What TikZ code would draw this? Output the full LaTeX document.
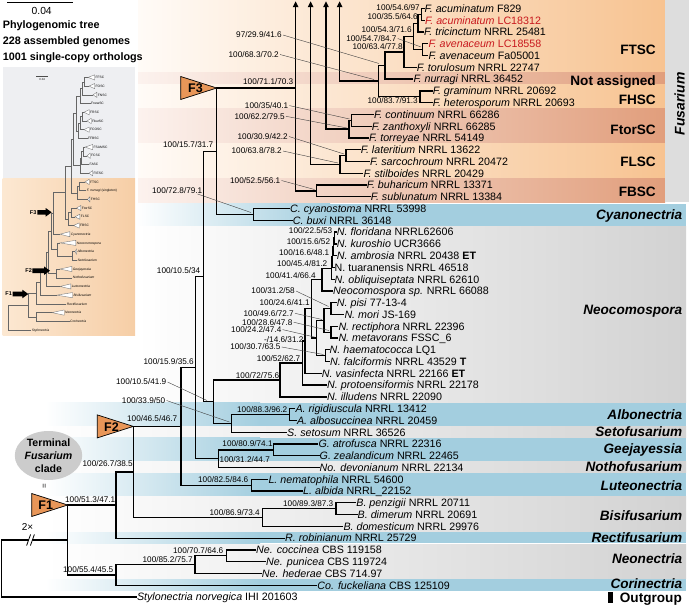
\documentclass[tikz,border=0pt]{standalone}
\usepackage{fontspec}
\setmainfont{Liberation Sans}
\usetikzlibrary{arrows.meta,shapes.geometric}
\definecolor{orL}{RGB}{247,195,145}
\definecolor{orLl}{RGB}{255,251,247}
\definecolor{orD}{RGB}{225,158,124}
\definecolor{orDl}{RGB}{252,242,238}
\definecolor{bblue}{RGB}{163,206,223}
\definecolor{bgray}{RGB}{210,210,210}
\definecolor{fusgray}{RGB}{221,221,221}
\definecolor{trif}{RGB}{232,150,88}
\definecolor{redt}{RGB}{200,25,30}
\definecolor{ellg}{RGB}{204,204,204}
\definecolor{insg}{RGB}{238,239,242}
\definecolor{insoL}{RGB}{252,232,210}
\definecolor{insoR}{RGB}{246,206,166}
\tikzset{
 br/.style={line width=1.3pt},
 tip/.style={anchor=west, inner sep=0pt, font=\fontsize{10.7}{12}\selectfont, text height=7.6pt, text depth=0pt},
 sup/.style={anchor=east, inner sep=0pt, font=\fontsize{8.2}{9}\selectfont, text height=5.9pt, text depth=0pt},
 grp/.style={anchor=east, inner sep=0pt, font=\bfseries\fontsize{13.6}{15}\selectfont, text height=9.8pt, text depth=0pt},
 lead/.style={line width=0.4pt, black!75},
 itri/.style={draw=black!55, fill=white, line width=0.35pt},
 ibr/.style={draw=black!60, line width=0.45pt},
 ilab/.style={anchor=west, inner sep=0pt, font=\fontsize{3.3}{3.5}\selectfont, text height=2.4pt, text depth=0pt},
 ftri/.style={fill=trif, draw=black, line width=0.7pt},
}
\newcommand\brto[2]{\draw[br] (#1) |- (#2.west);}
\newcommand\brn[2]{\draw[br] (#1) |- (#2);}
\newcommand\ibrn[2]{\draw[ibr] (#1) |- (#2);}
\newcommand\itip[5]{\filldraw[itri] (#2,#4) -- (#3-0.8,#4-2.6) -- (#3-0.8,#4+2.6) -- cycle;
 \node[ilab] (#1) at (#3,#4) {#5}; \coordinate (#1a) at (#2,#4);}
\newcommand\iln[4]{\node[ilab] (#1) at (#2,#3) {#4}; \coordinate (#1a) at (#2-0.3,#3);}
\newcommand\blockarrow[4]{\fill (#1,#4-2.3) -- (#3,#4-2.3) -- (#3,#4-4.3) -- (#2,#4) -- (#3,#4+4.3) -- (#3,#4+2.3) -- (#1,#4+2.3) -- cycle;}
\begin{document}
\begin{tikzpicture}[x=1pt,y=-1pt]
\useasboundingbox (0,0) rectangle (689,606);
% ---------------- background bands
\shade[left color=orLl, right color=orL] (138,0) rectangle (665,72.9);
\shade[left color=orDl, right color=orD] (138,72.9) rectangle (665,84.8);
\shade[left color=orLl, right color=orL] (138,84.8) rectangle (665,108.3);
\shade[left color=orDl, right color=orD] (138,108.3) rectangle (665,143.5);
\shade[left color=orLl, right color=orL] (138,143.5) rectangle (665,178.9);
\shade[left color=orDl, right color=orD] (138,178.9) rectangle (665,202.3);
\fill[fusgray] (665,0) rectangle (688.5,202.3);
% Cyanonectria
\shade[left color=white, right color=bblue] (136,203.8) rectangle (330,226.0);
\fill[bblue] (330,203.8) rectangle (686,226.0);
\shade[left color=white, right color=bgray] (136,226.6) rectangle (686,402.0);
\shade[left color=white, right color=bblue] (45,402.6) rectangle (260,425.6);
\fill[bblue] (260,402.6) rectangle (686,425.6);
\shade[left color=white, right color=bgray] (45,426.2) rectangle (686,437.2);
\shade[left color=white, right color=bblue] (45,437.8) rectangle (260,460.8);
\fill[bblue] (260,437.8) rectangle (686,460.8);
\shade[left color=white, right color=bgray] (45,461.4) rectangle (686,472.6);
\shade[left color=white, right color=bblue] (45,473.2) rectangle (260,496.3);
\fill[bblue] (260,473.2) rectangle (686,496.3);
\shade[left color=white, right color=bgray] (45,496.9) rectangle (686,531.6);
\shade[left color=white, right color=bblue] (45,532.2) rectangle (260,543.4);
\fill[bblue] (260,532.2) rectangle (686,543.4);
\shade[left color=white, right color=bgray] (45,544.0) rectangle (686,578.7);
\shade[left color=white, right color=bblue] (45,579.3) rectangle (260,590.6);
\fill[bblue] (260,579.3) rectangle (686,590.6);
% ---------------- title block
\draw[line width=0.9pt] (7.3,2.7) -- (72.7,2.7);
\node[inner sep=0pt, font=\fontsize{10.3}{11}\selectfont] (sb) at (41.7,10.8) {0.04};
\node[anchor=west, inner sep=0pt, font=\bfseries\fontsize{10.8}{12}\selectfont] (ti1) at (2.7,25.3) {Phylogenomic tree};
\node[anchor=west, inner sep=0pt, font=\bfseries\fontsize{10.8}{12}\selectfont] (ti2) at (2.7,41.7) {228 assembled genomes};
\node[anchor=west, inner sep=0pt, font=\bfseries\fontsize{10.8}{12}\selectfont] (ti3) at (2.7,57.9) {1001 single-copy orthologs};
% ---------------- inset
\fill[insg] (2.5,67) rectangle (135,178);
\shade[left color=insoL, right color=insoR] (2.5,178) rectangle (135,335);
\draw[black!70, line width=0.4pt] (36,76.6) -- (48.4,76.6);
\node[inner sep=0pt, font=\fontsize{2.8}{3}\selectfont] (isb) at (42.2,79.6) {0.04};
\itip{r1}{88}{95.5}{77.4}{FFSC}
\itip{r2}{89}{95.5}{86.11}{FOSC}
\itip{r3}{93}{97.7}{94.82}{FNSC}
\iln{r4}{91}{103.53}{FnewSC}
\itip{r5}{84}{90}{112.24}{FRSC}
\itip{r6}{87}{92}{120.95}{FburSC}
\itip{r7}{84}{90}{129.66}{FCOSC}
\iln{r8}{88}{138.37}{FFBSC}
\itip{r9}{85}{93.5}{147.08}{FSAMSC}
\itip{r10}{87}{91}{155.79}{FCSC}
\iln{r11}{89.5}{164.5}{FASC}
\itip{r12}{89}{93.5}{173.21}{FIESC}
\itip{r13}{85}{90}{181.92}{FTSC}
\iln{r14}{86.7}{190.63}{\textit{F. nurragi} (singleton)}
\itip{r15}{87.5}{90.7}{199.34}{FHSC}
\itip{r16}{76.5}{81.7}{208.05}{FtorSC}
\itip{r17}{75}{80.7}{216.76}{FLSC}
\itip{r18}{73.5}{80}{225.47}{FBSC}
\itip{r19}{60}{70.7}{234.18}{\textit{Cyanonectria}}
\itip{r20}{60}{76.7}{242.89}{\textit{Neocosmospora}}
\itip{r21}{75}{77.3}{251.6}{\textit{Albonectria}}
\iln{r22}{77.3}{260.31}{\textit{Setofusarium}}
\itip{r23}{60}{72.7}{269.02}{\textit{Geejayessia}}
\iln{r24}{72.7}{277.73}{\textit{Nothofusarium}}
\itip{r25}{60}{71.7}{286.44}{\textit{Luteonectria}}
\itip{r26}{56.7}{73.3}{295.15}{\textit{Bisifusarium}}
\iln{r27}{66.7}{303.86}{\textit{Rectifusarium}}
\itip{r28}{51.7}{65}{312.57}{\textit{Neonectria}}
\iln{r29}{70}{321.28}{\textit{Corinectria}}
\iln{r30}{31.7}{329.99}{\textit{Stylonectria}}
\coordinate (a1) at (84,81.76);
\coordinate (a2) at (82,88.29);
\coordinate (a3) at (80,95.91);
\coordinate (a4) at (82,116.6);
\coordinate (a5) at (80,123.13);
\coordinate (a6) at (78.5,130.75);
\coordinate (a7) at (76.5,113.33);
\coordinate (a8) at (83,151.44);
\coordinate (a9) at (81.5,157.97);
\coordinate (a10) at (80.5,165.59);
\coordinate (a11) at (73.5,139.46);
\coordinate (a12) at (79.3,186.28);
\coordinate (a13) at (77.5,192.81);
\coordinate (a14) at (71.5,166.14);
\coordinate (a15) at (71,212.4);
\coordinate (a16) at (68.5,218.94);
\coordinate (a17) at (65.5,192.54);
\coordinate (iF3) at (53.3,213.36);
\coordinate (ia2) at (72.5,255.96);
\coordinate (ik1) at (57,249.43);
\coordinate (ik2) at (51,231.4);
\coordinate (ig2) at (56,273.38);
\coordinate (ik3) at (48.5,252.39);
\coordinate (ik4) at (46,269.42);
\coordinate (iF2) at (40,282.29);
\coordinate (ik5) at (36.7,293.08);
\coordinate (ie3) at (36,316.93);
\coordinate (iF1) at (28.3,305);
\coordinate (iroot) at (8.3,317.5);
\ibrn{a1}{r1a}\ibrn{a1}{r2a}\ibrn{a2}{a1}\ibrn{a2}{r3a}\ibrn{a3}{a2}\ibrn{a3}{r4a}
\ibrn{a4}{r5a}\ibrn{a4}{r6a}\ibrn{a5}{a4}\ibrn{a5}{r7a}\ibrn{a6}{a5}\ibrn{a6}{r8a}
\ibrn{a7}{a3}\ibrn{a7}{a6}
\ibrn{a8}{r9a}\ibrn{a8}{r10a}\ibrn{a9}{a8}\ibrn{a9}{r11a}\ibrn{a10}{a9}\ibrn{a10}{r12a}
\ibrn{a11}{a7}\ibrn{a11}{a10}
\ibrn{a12}{r13a}\ibrn{a12}{r14a}\ibrn{a13}{a12}\ibrn{a13}{r15a}
\ibrn{a14}{a11}\ibrn{a14}{a13}
\ibrn{a15}{r16a}\ibrn{a15}{r17a}\ibrn{a16}{a15}\ibrn{a16}{r18a}
\ibrn{a17}{a14}\ibrn{a17}{a16}
\ibrn{iF3}{a17}\ibrn{iF3}{r19a}
\ibrn{ia2}{r21a}\ibrn{ia2}{r22a}\ibrn{ik1}{r20a}\ibrn{ik1}{ia2}
\ibrn{ik2}{iF3}\ibrn{ik2}{ik1}
\ibrn{ig2}{r23a}\ibrn{ig2}{r24a}
\ibrn{ik3}{ik2}\ibrn{ik3}{ig2}
\ibrn{ik4}{ik3}\ibrn{ik4}{r25a}
\ibrn{iF2}{ik4}\ibrn{iF2}{r26a}
\ibrn{ik5}{iF2}\ibrn{ik5}{r27a}
\ibrn{ie3}{r28a}\ibrn{ie3}{r29a}
\ibrn{iF1}{ik5}\ibrn{iF1}{ie3}
\ibrn{iroot}{iF1}\ibrn{iroot}{r30a}
\blockarrow{12.7}{28.3}{22.3}{294}
\blockarrow{32.3}{50}{44}{270.7}
\blockarrow{37.3}{51.7}{45.7}{212.3}
\node[inner sep=0pt, font=\bfseries\fontsize{5.5}{6}\selectfont] (iF1l) at (8.6,294) {F1};
\node[inner sep=0pt, font=\bfseries\fontsize{5.5}{6}\selectfont] (iF2l) at (28.6,270.7) {F2};
\node[inner sep=0pt, font=\bfseries\fontsize{5.5}{6}\selectfont] (iF3l) at (33.2,212.3) {F3};
% ---------------- tip labels
\node[tip] (t1) at (424.5,8.5) {\textit{F. acuminatum} F829};
\node[tip, text=redt] (t2) at (425,20.27) {\textit{F. acuminatum} LC18312};
\node[tip] (t3) at (424,32.04) {\textit{F. tricinctum} NRRL 25481};
\node[tip, text=redt] (t4) at (428.3,43.81) {\textit{F. avenaceum} LC18558};
\node[tip] (t5) at (428.3,55.58) {\textit{F. avenaceum} Fa05001};
\node[tip] (t6) at (416.7,67.35) {\textit{F. torulosum} NRRL 22747};
\node[tip] (t7) at (413.3,79.12) {\textit{F. nurragi} NRRL 36452};
\node[tip] (t8) at (432.7,90.89) {\textit{F. graminum} NRRL 20692};
\node[tip] (t9) at (432.7,102.66) {\textit{F. heterosporum} NRRL 20693};
\node[tip] (t10) at (374,114.43) {\textit{F. continuum} NRRL 66286};
\node[tip] (t11) at (371.7,126.2) {\textit{F. zanthoxyli} NRRL 66285};
\node[tip] (t12) at (369,137.97) {\textit{F. torreyae} NRRL 54149};
\node[tip] (t13) at (360.7,149.74) {\textit{F. lateritium} NRRL 13622};
\node[tip] (t14) at (370,161.51) {\textit{F. sarcochroum} NRRL 20472};
\node[tip] (t15) at (363.3,173.28) {\textit{F. stilboides} NRRL 20429};
\node[tip] (t16) at (366.7,185.05) {\textit{F. buharicum} NRRL 13371};
\node[tip] (t17) at (370.7,196.82) {\textit{F. sublunatum} NRRL 13384};
\node[tip] (t18) at (290,208.59) {\textit{C. cyanostoma} NRRL 53998};
\node[tip] (t19) at (292.7,220.36) {\textit{C. buxi} NRRL 36148};
\node[tip] (t20) at (336.7,232.13) {\textit{N. floridana} NRRL62606};
\node[tip] (t21) at (336.7,243.9) {\textit{N. kuroshio} UCR3666};
\node[tip] (t22) at (336.7,255.67) {\textit{N. ambrosia} NRRL 20438 \textbf{ET}};
\node[tip] (t23) at (334.5,267.44) {N. tuaranensis NRRL 46518};
\node[tip] (t24) at (334.5,279.21) {\textit{N. obliquiseptata} NRRL 62610};
\node[tip] (t25) at (333,290.98) {\textit{Neocomospora sp.} NRRL 66088};
\node[tip] (t26) at (336.7,302.75) {\textit{N. pisi} 77-13-4};
\node[tip] (t27) at (344.3,314.52) {\textit{N. mori} JS-169};
\node[tip] (t28) at (338.3,326.29) {\textit{N. rectiphora} NRRL 22396};
\node[tip] (t29) at (338.3,338.06) {\textit{N. metavorans} FSSC\_6};
\node[tip] (t30) at (329.5,349.83) {\textit{N. haematococca} LQ1};
\node[tip] (t31) at (330,361.6) {\textit{N. falciformis} NRRL 43529 \textbf{T}};
\node[tip] (t32) at (321.7,373.37) {\textit{N. vasinfecta} NRRL 22166 \textbf{ET}};
\node[tip] (t33) at (327,385.14) {\textit{N. protoensiformis} NRRL 22178};
\node[tip] (t34) at (327,396.91) {\textit{N. illudens} NRRL 22090};
\node[tip] (t35) at (295.3,408.68) {\textit{A. rigidiuscula} NRRL 13412};
\node[tip] (t36) at (296.8,420.45) {\textit{A. albosuccinea} NRRL 20459};
\node[tip] (t37) at (287,432.22) {\textit{S. setosum} NRRL 36526};
\node[tip] (t38) at (318.3,443.99) {\textit{G. atrofusca} NRRL 22316};
\node[tip] (t39) at (319.5,455.76) {\textit{G. zealandicum} NRRL 22465};
\node[tip] (t40) at (319.5,467.53) {\textit{No. devonianum} NRRL 22134};
\node[tip] (t41) at (268.3,479.3) {\textit{L. nematophila} NRRL 54600};
\node[tip] (t42) at (303,491.07) {\textit{L. albida} NRRL\_22152};
\node[tip] (t43) at (356.2,502.84) {\textit{B. penzigii} NRRL 20711};
\node[tip] (t44) at (357.5,514.61) {\textit{B. dimerum} NRRL 20691};
\node[tip] (t45) at (343.3,526.38) {\textit{B. domesticum} NRRL 29976};
\node[tip] (t46) at (285,538.15) {\textit{R. robinianum} NRRL 25729};
\node[tip] (t47) at (256,549.92) {\textit{Ne. coccinea} CBS 119158};
\node[tip] (t48) at (266,561.69) {\textit{Ne. punicea} CBS 119724};
\node[tip] (t49) at (261.7,573.46) {\textit{Ne. hederae} CBS 714.97};
\node[tip] (t50) at (317.2,585.23) {\textit{Co. fuckeliana} CBS 125109};
\node[tip] (t51) at (136.8,597.0) {\textit{Stylonectria norvegica} IHI 201603};
% ---------------- internal nodes
\coordinate (N6) at (421.5,14.39);
\coordinate (N5) at (418,23.2);
\coordinate (N7) at (422.5,49.7);
\coordinate (N4) at (413.5,36.45);
\coordinate (N3) at (404,51.9);
\coordinate (N2) at (385,65.5);
\coordinate (H1) at (420,96.78);
\coordinate (N1) at (378.4,81.1);
\coordinate (T2) at (351.5,120.3);
\coordinate (T1) at (349,129.1);
\coordinate (L2) at (346,155.6);
\coordinate (L1) at (340,164.4);
\coordinate (B1) at (316.7,190.9);
\coordinate (C1) at (253.3,214.5);
\coordinate (F3n) at (216.7,151.25);
\coordinate (n1) at (334.5,238.0);
\coordinate (n2) at (333.5,246.8);
\coordinate (n3) at (332.5,257.1);
\coordinate (n4) at (331.5,268.2);
\coordinate (n5) at (322,279.6);
\coordinate (m1) at (331,308.6);
\coordinate (m2) at (331,332.2);
\coordinate (m3) at (324,320.4);
\coordinate (m4) at (325.6,355.7);
\coordinate (m5) at (316.7,338.05);
\coordinate (n6) at (311.7,308.8);
\coordinate (m6) at (305,341.1);
\coordinate (m7) at (302.5,363.1);
\coordinate (m8) at (280,380.0);
\coordinate (a1m) at (289.5,414.6);
\coordinate (a2m) at (231.7,423.4);
\coordinate (k1) at (213.3,401.7);
\coordinate (k2) at (203.3,276.5);
\coordinate (g1) at (273.3,449.9);
\coordinate (g2) at (218.3,458.7);
\coordinate (k3) at (195.7,367.6);
\coordinate (l1) at (251.7,485.2);
\coordinate (k4) at (181,426.4);
\coordinate (b1) at (336,508.7);
\coordinate (b2) at (262.5,517.5);
\coordinate (F2n) at (133.3,471.95);
\coordinate (k5) at (116,505.05);
\coordinate (e1) at (226.7,555.8);
\coordinate (e2) at (195,564.6);
\coordinate (e3) at (116,574.9);
\coordinate (F1n) at (67.7,540.0);
\coordinate (root) at (1.5,568.5);
% ---------------- branches
\brto{N6}{t1}\brto{N6}{t2}\brn{N5}{N6}\brto{N5}{t3}
\brto{N7}{t4}\brto{N7}{t5}\brn{N4}{N5}\brn{N4}{N7}
\brn{N3}{N4}\brto{N3}{t6}\brn{N2}{N3}\brto{N2}{t7}
\brto{H1}{t8}\brto{H1}{t9}\brn{N1}{N2}\brn{N1}{H1}
\brto{T2}{t10}\brto{T2}{t11}\brn{T1}{T2}\brto{T1}{t12}
\brto{L2}{t13}\brto{L2}{t14}\brn{L1}{L2}\brto{L1}{t15}
\brto{B1}{t16}\brto{B1}{t17}
\draw[br,-{Triangle[length=6pt,width=5.5pt]}] (N1) -| (339.6,1.2);
\draw[br,-{Triangle[length=6pt,width=5.5pt]}] (T1) -| (326,1.2);
\draw[br,-{Triangle[length=6pt,width=5.5pt]}] (L1) -| (310.6,1.2);
\draw[br,-{Triangle[length=6pt,width=5.5pt]}] (B1) -| (295.6,1.2);
\draw[br] (F3n) |- (295.6,88);
\brto{C1}{t18}\brto{C1}{t19}\brn{F3n}{C1}
\brto{n1}{t20}\brto{n1}{t21}\brn{n2}{n1}\brto{n2}{t22}\brn{n3}{n2}\brto{n3}{t23}
\brn{n4}{n3}\brto{n4}{t24}\brn{n5}{n4}\brto{n5}{t25}
\brto{m1}{t26}\brto{m1}{t27}\brto{m2}{t28}\brto{m2}{t29}\brn{m3}{m1}\brn{m3}{m2}
\brto{m4}{t30}\brto{m4}{t31}\brn{m5}{m3}\brn{m5}{m4}
\brn{n6}{n5}\brn{n6}{m5}\brn{m6}{n6}\brto{m6}{t32}\brn{m7}{m6}\brto{m7}{t33}
\brn{m8}{m7}\brto{m8}{t34}
\brto{a1m}{t35}\brto{a1m}{t36}\brn{a2m}{a1m}\brto{a2m}{t37}
\brn{k1}{m8}\brn{k1}{a2m}\brn{k2}{F3n}\brn{k2}{k1}
\brto{g1}{t38}\brto{g1}{t39}\brn{g2}{g1}\brto{g2}{t40}
\brn{k3}{k2}\brn{k3}{g2}
\brto{l1}{t41}\brto{l1}{t42}\brn{k4}{k3}\brn{k4}{l1}
\brto{b1}{t43}\brto{b1}{t44}\brn{b2}{b1}\brto{b2}{t45}
\brn{F2n}{k4}\brn{F2n}{b2}\brn{k5}{F2n}\brto{k5}{t46}
\brto{e1}{t47}\brto{e1}{t48}\brn{e2}{e1}\brto{e2}{t49}\brn{e3}{e2}\brto{e3}{t50}
\brn{F1n}{k5}\brn{F1n}{e3}
\brn{root}{F1n}\brto{root}{t51}
% break marks on root
\fill[white] (26.6,545.6) -- (30.6,534.4) -- (34.4,534.4) -- (30.4,545.6) -- cycle;
\draw[line width=0.8pt] (26.6,545.6) -- (30.6,534.4);
\draw[line width=0.8pt] (30.4,545.6) -- (34.4,534.4);
\node[inner sep=0pt, font=\fontsize{10}{11}\selectfont] (twox) at (27.5,526.8) {2×};
% ---------------- F triangles
\filldraw[ftri] (180.7,76.5) -- (216.7,88) -- (180.7,99.5) -- cycle;
\node[inner sep=0pt, font=\bfseries\fontsize{12.5}{13}\selectfont] (F3l) at (195.5,88.3) {F3};
\filldraw[ftri] (97.3,414.9) -- (133.3,426.4) -- (97.3,437.9) -- cycle;
\node[inner sep=0pt, font=\bfseries\fontsize{12.5}{13}\selectfont] (F2l) at (111.5,426.7) {F2};
\filldraw[ftri] (31.7,493.5) -- (67.7,505.0) -- (31.7,516.5) -- cycle;
\node[inner sep=0pt, font=\bfseries\fontsize{12.5}{13}\selectfont] (F1l) at (45.7,505.3) {F1};
% terminal clade ellipse
\node[ellipse, fill=ellg, minimum width=67pt, minimum height=49pt, inner sep=0pt, align=center,
  font=\bfseries\fontsize{10.6}{13}\selectfont] (term) at (48.5,455.5) {Terminal\\\textit{Fusarium}\\clade};
\node[rotate=90, inner sep=0pt, font=\fontsize{8}{8}\selectfont] (eqs) at (45,486.3) {=};
% ---------------- support values
\node[sup] (s1) at (420,7.6) {100/54.6/97};
\node[sup] (s2) at (418,16.5) {100/35.5/64.6};
\node[sup] (s3) at (412,29.5) {100/54.3/71.6};
\node[sup] (s4) at (396.7,38.5) {100/54.7/84.7};
\node[sup] (s5) at (403,47) {100/63.4/77.8};
\node[sup] (s6) at (282,35) {97/29.9/41.6};
\node[sup] (s7) at (279,54.5) {100/68.3/70.2};
\node[sup] (s8) at (293.5,81.8) {100/71.1/70.3};
\node[sup] (s9) at (418,101) {100/83.7/91.3};
\node[sup] (s10) at (288.5,105.6) {100/35/40.1};
\node[sup] (s11) at (285,116.3) {100/62.2/79.5};
\node[sup] (s12) at (288,136.5) {100/30.9/42.2};
\node[sup] (s13) at (282,151) {100/63.8/78.2};
\node[sup] (s14) at (280.5,180.5) {100/52.5/56.1};
\node[sup] (s15) at (213.5,144.5) {100/15.7/31.7};
\node[sup] (s16) at (202.5,190.8) {100/72.8/79.1};
\node[sup] (s17) at (200.5,270.3) {100/10.5/34};
\node[sup] (s18) at (332.5,231) {100/22.5/53};
\node[sup] (s19) at (330.3,242) {100/15.6/52};
\node[sup] (s20) at (329.5,253) {100/16.6/48.1};
\node[sup] (s21) at (327.5,264) {100/45.4/81.2};
\node[sup] (s22) at (316,275.4) {100/41.4/66.4};
\node[sup] (s23) at (295,291) {100/31.2/58};
\node[sup] (s24) at (310,303) {100/24.6/41.1};
\node[sup] (s25) at (294,313.3) {100/49.6/72.7};
\node[sup] (s26) at (292.6,322.2) {100/28.6/47.8};
\node[sup] (s27) at (281.6,329.6) {100/24.2/47.4};
\node[sup] (s28) at (303.6,339.3) {-/14.6/31.2};
\node[sup] (s29) at (280.7,347) {100/30.7/63.5};
\node[sup] (s30) at (300.5,359) {100/52/62.7};
\node[sup] (s31) at (279.4,375.2) {100/72/75.6};
\node[sup] (s32) at (194,362) {100/15.9/35.6};
\node[sup] (s33) at (166.5,382) {100/10.5/41.9};
\node[sup] (s34) at (165.5,400.5) {100/33.9/50};
\node[sup] (s35) at (287.5,410) {100/88.3/96.2};
\node[sup] (s36) at (272.8,444) {100/80.9/74.1};
\node[sup, anchor=west] (s37) at (219.5,459.5) {100/31.2/44.7};
\node[sup] (s38) at (177.5,418.5) {100/46.5/46.7};
\node[sup] (s39) at (248.5,480) {100/82.5/84.6};
\node[sup] (s40) at (133,463.5) {100/26.7/38.5};
\node[sup] (s41) at (115.5,499.5) {100/51.3/47.1};
\node[sup] (s42) at (333.5,503.5) {100/89.3/87.3};
\node[sup] (s43) at (260,512.5) {100/86.9/73.4};
\node[sup] (s44) at (113.5,570) {100/55.4/45.5};
\node[sup] (s45) at (193,559.5) {100/85.2/75.7};
\node[sup] (s46) at (223.5,550.5) {100/70.7/64.6};
% leaders
\draw[lead] ([xshift=1pt]s4.east) -- (421,47);
\draw[lead] ([xshift=1pt]s6.east) -- (379,63.5);
\draw[lead] ([xshift=1pt]s7.east) -- (374,79.5);
\draw[lead] ([xshift=1pt]s10.east) -- (349.5,119);
\draw[lead] ([xshift=1pt]s11.east) -- (347,128);
\draw[lead] ([xshift=1pt]s12.east) -- (344,154);
\draw[lead] ([xshift=1pt]s13.east) -- (338,163);
\draw[lead] ([xshift=1pt]s14.east) -- (314.5,189.5);
\draw[lead] ([xshift=-5pt]s16.south east) -- (251,212.5);
\draw[lead] ([xshift=1pt]s23.east) -- (328.5,306.5);
\draw[lead] ([xshift=1pt]s25.east) -- (322,319.5);
\draw[lead] ([xshift=1pt]s26.east) -- (329,330.5);
\draw[lead] ([xshift=1pt]s27.east) -- (314.5,337);
\draw[lead] ([xshift=1pt]s29.east) -- (323.5,354.5);
\draw[lead] ([xshift=1pt]s33.east) -- (207,400.5);
\draw[lead] ([xshift=1pt]s34.east) -- (229.5,422);
% ---------------- group labels
\node[grp] (gFTSC) at (656,50) {FTSC};
\node[grp] (gNA) at (656,80.8) {Not assigned};
\node[grp] (gFHSC) at (656,99.5) {FHSC};
\node[grp] (gFtor) at (656,129.5) {FtorSC};
\node[grp] (gFLSC) at (656,161.7) {FLSC};
\node[grp] (gFBSC) at (656,191.6) {FBSC};
\node[rotate=90, inner sep=0pt, font=\bfseries\itshape\fontsize{14}{15}\selectfont] (gFus) at (679.5,104) {Fusarium};
\node[grp] (gCy) at (682.5,214.5) {\textit{Cyanonectria}};
\node[grp] (gNe) at (682.5,309.8) {\textit{Neocomospora}};
\node[grp] (gAl) at (682.5,415) {\textit{Albonectria}};
\node[grp] (gSe) at (682.5,431.5) {\textit{Setofusarium}};
\node[grp] (gGe) at (682.5,448.5) {\textit{Geejayessia}};
\node[grp] (gNo) at (682.5,466.8) {\textit{Nothofusarium}};
\node[grp] (gLu) at (682.5,485.3) {\textit{Luteonectria}};
\node[grp] (gBi) at (682.5,515.2) {\textit{Bisifusarium}};
\node[grp] (gRe) at (682.5,537.3) {\textit{Rectifusarium}};
\node[grp] (gNn) at (682.5,559) {\textit{Neonectria}};
\node[grp] (gCo) at (682.5,583.3) {\textit{Corinectria}};
\fill (608.3,591.7) rectangle (612.7,603.3);
\node[grp] (gOut) at (682,597.5) {Outgroup};
\end{tikzpicture}
\end{document}
